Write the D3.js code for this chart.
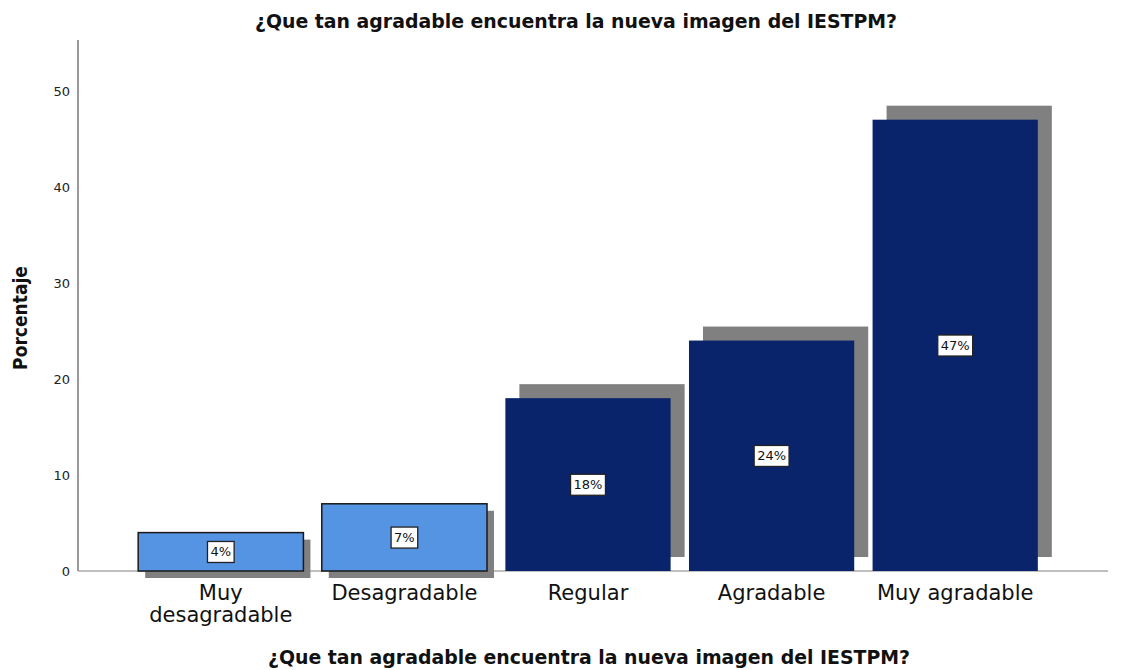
<!DOCTYPE html>
<html>
<head>
<meta charset="utf-8">
<script src="https://cdn.jsdelivr.net/npm/d3@7/dist/d3.min.js"></script>
<style>
  body { margin: 0; background: #fff; }
  svg { display: block; }
</style>
</head>
<body>
<svg id="chart" width="1144" height="670"></svg>
<script>
const categories = ["Muy desagradable", "Desagradable", "Regular", "Agradable", "Muy agradable"];
const categoryLines = [["Muy", "desagradable"], ["Desagradable"], ["Regular"], ["Agradable"], ["Muy agradable"]];
const values = [4, 7, 18, 24, 47];
const valueLabels = ["4%", "7%", "18%", "24%", "47%"];
const yTicks = [0, 10, 20, 30, 40, 50];
const barColors = ["#5593e3", "#5593e3", "#0a246b", "#0a246b", "#0a246b"];
const titleText = "¿Que tan agradable encuentra la nueva imagen del IESTPM?";
const yTitle = "Porcentaje";

const svg = d3.select("#chart");
const x = d3.scaleBand().domain(categories).range([129, 1047]).paddingInner(0.1).paddingOuter(0.05);
const y = d3.scaleLinear().domain([0, 55.3]).range([571, 40]);

const condensed = "'Liberation Sans Narrow', 'DejaVu Sans Condensed', 'Open Sans', sans-serif";

// title
svg.append("text").attr("x", 576).attr("y", 28).attr("text-anchor", "middle")
  .attr("font-family", condensed).attr("font-weight", "bold").attr("font-size", 19)
  .attr("textLength", 642).attr("lengthAdjust", "spacingAndGlyphs")
  .attr("fill", "#111").text(titleText);

// x-axis title
svg.append("text").attr("x", 589).attr("y", 664).attr("text-anchor", "middle")
  .attr("font-family", condensed).attr("font-weight", "bold").attr("font-size", 19)
  .attr("textLength", 642).attr("lengthAdjust", "spacingAndGlyphs")
  .attr("fill", "#111").text(titleText);

// y title
svg.append("text").attr("transform", "translate(27,318) rotate(-90)").attr("text-anchor", "middle")
  .attr("font-family", condensed).attr("font-weight", "bold").attr("font-size", 19)
  .attr("fill", "#111").text(yTitle);

// y axis
const yAxis = d3.axisLeft(y).tickValues(yTicks).tickSize(0).tickPadding(8);
const yg = svg.append("g").attr("transform", "translate(78,0)").call(yAxis);
yg.select(".domain").remove();
yg.selectAll("text").attr("font-family", "'DejaVu Sans', sans-serif").attr("font-size", 13).attr("fill", "#222");
svg.append("line").attr("x1", 78).attr("x2", 78).attr("y1", y(55.3)).attr("y2", y(0))
  .attr("stroke", "#555").attr("stroke-width", 1.2);

// x axis line
svg.append("line").attr("x1", 78).attr("x2", 1108).attr("y1", y(0)).attr("y2", y(0))
  .attr("stroke", "#aaa").attr("stroke-width", 1.5);

const data = categories.map((c, i) => ({ c, v: values[i], color: barColors[i], label: valueLabels[i], i }));

// shadows
svg.append("g").selectAll("rect").data(data).join("rect")
  .attr("x", d => x(d.c) + (d.i < 2 ? 7 : 14))
  .attr("y", d => y(d.v) + (d.i < 2 ? 7 : -14))
  .attr("width", x.bandwidth())
  .attr("height", d => y(0) - y(d.v))
  .attr("fill", "#808080");

// bars
svg.append("g").selectAll("rect").data(data).join("rect")
  .attr("x", d => x(d.c))
  .attr("y", d => y(d.v))
  .attr("width", x.bandwidth())
  .attr("height", d => y(0) - y(d.v))
  .attr("fill", d => d.color)
  .attr("stroke", d => d.i < 2 ? "#1a1a1a" : "none")
  .attr("stroke-width", 1.5);

// value labels
const lg = svg.append("g").selectAll("g").data(data).join("g")
  .attr("transform", d => `translate(${x(d.c) + x.bandwidth() / 2},${(y(d.v) + y(0)) / 2})`);
lg.append("text").attr("text-anchor", "middle").attr("dy", "0.36em")
  .attr("font-family", "'DejaVu Sans', sans-serif").attr("font-size", 13).attr("fill", "#111")
  .text(d => d.label);
lg.each(function () {
  const g = d3.select(this);
  const bb = g.select("text").node().getBBox();
  g.insert("rect", "text").attr("x", bb.x - 3).attr("y", bb.y - 3)
    .attr("width", bb.width + 6).attr("height", bb.height + 6)
    .attr("fill", "#fff").attr("stroke", "#222").attr("stroke-width", 1.3);
});

// category labels
svg.append("g").selectAll("text").data(data).join("text")
  .attr("x", d => x(d.c) + x.bandwidth() / 2)
  .attr("y", 600)
  .attr("text-anchor", "middle")
  .attr("font-family", "'DejaVu Sans', sans-serif").attr("font-size", 21).attr("fill", "#111")
  .each(function (d) {
    const t = d3.select(this);
    categoryLines[d.i].forEach((line, k) => {
      t.append("tspan").attr("x", x(d.c) + x.bandwidth() / 2).attr("dy", k === 0 ? 0 : 22).text(line);
    });
  });
</script>
</body>
</html>
